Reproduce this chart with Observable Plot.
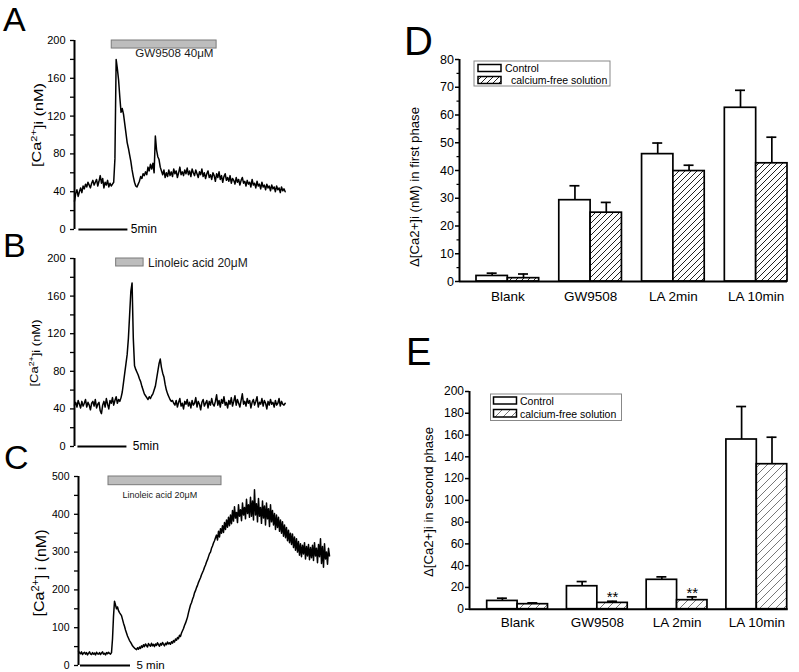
<!DOCTYPE html>
<html><head><meta charset="utf-8">
<script src="https://cdn.jsdelivr.net/npm/d3@7"></script>
<script src="https://cdn.jsdelivr.net/npm/@observablehq/plot@0.6"></script>
<style>
html,body{margin:0;padding:0;background:#fff;}
#fig{position:relative;width:799px;height:672px;overflow:hidden;font-family:Arial,"Liberation Sans",sans-serif;}
.panel{position:absolute;}
#overlay{position:absolute;left:0;top:0;pointer-events:none;}
</style></head>
<body><div id="fig"></div>
<script>
// ---------------- DATA ----------------
// Panel A: [Ca2+]i trace (nM), sampled every 0.125 min, GW9508 40 µM
const dtAB = 0.125;
const traceA = [30,38,42,35,40,44,39,46,43,48,45,50,47,44,49,52,47,
  50,53,46,51,57,49,54,44,50,47,52,45,49,46,48,50,
  75,180,170,158,140,124,128,122,112,102,92,86,79,72,63,56,50,46,45,48,
  51,56,54,59,57,61,58,66,62,69,64,70,60,99,84,77,74,66,62,58,63,55,60,56,
  63,57,61,56,64,59,62,55,60,66,58,61,57,63,59,65,
  58,62,56,64,60,57,63,59,55,61,58,64,56,60,54,59,
  62,55,58,53,60,57,51,59,55,61,53,57,50,56,59,52,
  55,51,57,49,54,52,48,55,50,53,47,52,55,49,51,46,
  52,48,50,45,53,47,49,44,51,46,48,43,50,45,47,42,
  48,44,46,41,47,43,45,40,46,42,44,39,45,41,43,40];
// Panel B: [Ca2+]i trace (nM), sampled every 0.125 min, linoleic acid 20 µM
const traceB = [44,47,42,49,45,41,48,43,46,50,42,47,44,39,46,48,
  43,50,41,45,47,38,35,44,48,42,51,45,40,49,46,52,
  44,49,53,46,50,48,
  52,58,68,78,88,98,115,140,165,174,115,86,82,79,76,72,69,64,60,56,
  54,52,50,53,51,54,56,60,64,72,80,88,93,84,78,74,66,60,56,53,50,48,49,46,
  44,49,42,47,51,43,46,40,48,45,50,43,47,41,49,44,
  46,52,42,48,45,39,47,50,43,46,49,41,48,44,51,45,
  43,48,55,44,49,42,50,46,53,44,47,41,49,45,52,43,
  48,54,44,50,46,42,49,56,45,48,43,51,46,49,41,47,
  50,44,48,53,42,47,45,51,43,49,46,40,48,44,50,45,
  47,42,49,44,46,51,43,48,45,44,46];
// Panel C: [Ca2+]i trace (nM), sampled every 0.1 min, linoleic acid 20 µM
const dtC = 0.1;
const traceC = [38,34,31,36,29,33,35,30,34,28,32,36,31,29,34,30,
  33,28,35,31,30,34,29,33,36,30,32,28,34,31,35,32,30,34,
  70,130,170,160,150,155,145,140,136,132,122,112,104,94,86,78,72,66,62,57,52,49,46,44,42,47,43,49,
  45,52,48,55,50,57,53,49,58,54,51,59,52,56,50,57,
  53,60,55,51,58,54,61,56,52,59,55,62,57,60,56,
  63,59,66,62,70,67,74,71,80,77,86,92,98,106,112,
  120,128,140,150,160,166,175,182,192,198,206,212,220,226,232,
  240,246,252,260,266,274,280,288,296,300,310,316,324,330,338,
  345,332,355,340,362,350,370,352,378,360,385,366,392,370,398,
  375,410,382,420,390,405,378,425,395,412,383,430,398,418,388,440,402,425,392,445,
  395,435,385,465,398,428,380,442,395,418,376,435,390,422,372,430,388,415,368,425,
  380,410,372,402,360,398,365,392,355,385,350,380,342,372,338,365,330,358,325,350,
  320,348,312,340,305,335,300,328,292,322,288,318,295,325,282,315,290,320,280,312,
  285,318,278,325,290,310,272,320,288,335,270,315,260,322,282,300,268,310,290];
const drugWindows = {A: [3.8, 14.5], B: [4.25, 7.05], C: [3.0, 14.3]}; // minutes
const drugLabels = {A: "GW9508 40μM", B: "Linoleic acid 20μM", C: "Linoleic acid 20μM"};
const scaleBarMin = 5;
const scaleBarLabels = {A: "5min", B: "5min", C: "5 min"};
const yTicksAB = d3.range(0, 201, 20);
const yTicksC = d3.range(0, 501, 50);

// Panels D, E: grouped bars
const categories = ["Blank", "GW9508", "LA 2min", "LA 10min"];
const seriesNames = ["Control", "calcium-free solution"];
const dControl    = [2.0, 29.3, 45.9, 62.6];
const dControlErr = [1.0, 5.2, 4.0, 6.3];
const dCaFree     = [1.2, 24.8, 39.8, 42.6];
const dCaFreeErr  = [1.5, 3.7, 2.1, 9.4];
const eControl    = [7.6, 21.1, 27.0, 155.9];
const eControlErr = [2.5, 4.3, 2.7, 30.3];
const eCaFree     = [4.6, 5.8, 8.3, 133.2];
const eCaFreeErr  = [1.2, 1.5, 3.0, 24.8];
const eSignif     = ["", "**", "**", ""];
const dTicks = d3.range(0, 81, 10), dMinor = d3.range(5, 80, 10);
const eTicks = d3.range(0, 201, 20);

// ---------------- RENDER ----------------
const FONT = "Arial, 'Liberation Sans', sans-serif";
const fig = document.getElementById("fig");
const baseStyle = {fontFamily: FONT, background: "transparent", overflow: "visible", maxWidth: "none", color: "#000"};

function mount(svg, left, top) {
  const w = document.createElement("div");
  w.className = "panel";
  w.style.left = left + "px"; w.style.top = top + "px";
  w.appendChild(svg);
  fig.appendChild(w);
}

function tracePanel(c) {
  const data = c.values.map((v, i) => ({t: i * c.dt, v}));
  return Plot.plot({
    width: c.width, height: c.height,
    marginLeft: c.ml, marginTop: c.mt, marginBottom: c.mb, marginRight: c.mr,
    style: baseStyle,
    x: {domain: [0, c.xMax], axis: null},
    y: {domain: [0, c.yMax], label: null},
    marks: [
      Plot.axisY(c.ticks, {tickSize: 4, tickPadding: 5, fontSize: c.tickFont, strokeWidth: 1.3, label: null,
        tickFormat: d => d % c.labelStep === 0 ? String(d) : ""}),
      Plot.ruleX([0], {y1: () => 0, y2: () => c.yMax, strokeWidth: 2}),
      Plot.rect([c.drug], {x1: d => d[0], x2: d => d[1], y1: () => c.yMax - c.drugH, y2: () => c.yMax,
        fill: "#bdbdbd", stroke: "#7a7a7a", strokeWidth: 1}),
      Plot.text([c.drugLabel], {x: () => c.labelT, y: () => c.labelY, text: d => d, textAnchor: "start",
        fontSize: c.labelFont, fill: "#1a1a1a"}),
      Plot.line(data, {x: "t", y: "v", stroke: "#000", strokeWidth: 1.5, strokeLinejoin: "round"}),
      Plot.ruleY([0], {x1: () => c.barStart, x2: () => c.barStart + scaleBarMin, strokeWidth: 2}),
      Plot.text([c.barLabel], {x: () => c.barStart + scaleBarMin + c.barGap, y: () => 0, text: d => d,
        textAnchor: "start", fontSize: c.barFont})
    ]
  });
}

mount(tracePanel({values: traceA, dt: dtAB, width: 290, height: 240, ml: 74, mt: 40, mb: 11, mr: 5.3,
  xMax: 21.5, yMax: 200, ticks: yTicksAB, labelStep: 40, tickFont: 11,
  drug: drugWindows.A, drugH: 8.5, drugLabel: drugLabels.A, labelT: 6.2, labelY: 186, labelFont: 11.6,
  barStart: 0.45, barGap: 0.3, barLabel: scaleBarLabels.A, barFont: 12}), 0, 0);

mount(tracePanel({values: traceB, dt: dtAB, width: 290, height: 206, ml: 74, mt: 8, mb: 10, mr: 5.3,
  xMax: 21.5, yMax: 200, ticks: yTicksAB, labelStep: 40, tickFont: 11,
  drug: drugWindows.B, drugH: 8.5, drugLabel: drugLabels.B, labelT: 7.5, labelY: 195, labelFont: 12,
  barStart: 0.35, barGap: 0.6, barLabel: scaleBarLabels.B, barFont: 12}), 0, 250);

mount(tracePanel({values: traceC, dt: dtC, width: 340, height: 206, ml: 78, mt: 10, mb: 7, mr: 8,
  xMax: 25.4, yMax: 500, ticks: yTicksC, labelStep: 100, tickFont: 10.5,
  drug: drugWindows.C, drugH: 23, drugLabel: drugLabels.C, labelT: 4.4, labelY: 452, labelFont: 9,
  barStart: 0.2, barGap: 0.6, barLabel: scaleBarLabels.C, barFont: 11.5}), 0, 466);

function barPanel(c) {
  const rows = categories.map((cat, i) => ({cat, c: c.control[i], ce: c.controlErr[i], f: c.free[i], fe: c.freeErr[i],
    sig: c.sig ? c.sig[i] : ""}));
  const xb = d3.scaleBand().domain(categories).range(c.xRange).paddingInner(c.pi).paddingOuter(0);
  const bw = xb.bandwidth(), q = bw / 4, cap = 5;
  const axisDx = c.ml - (xb(categories[0]) + bw / 2);
  const sw = 1.7;
  return Plot.plot({
    width: c.width, height: c.height,
    marginLeft: c.ml, marginTop: c.mt, marginBottom: c.mb, marginRight: c.mr,
    style: baseStyle,
    x: {type: "band", domain: categories, range: c.xRange, paddingInner: c.pi, paddingOuter: 0, round: false, label: null},
    y: {domain: [0, c.yMax], label: null},
    marks: [
      Plot.axisY(c.ticks, {tickSize: 4, tickPadding: 1.5, fontSize: c.tickFont, strokeWidth: 1.5, label: null}),
      c.minor ? Plot.axisY(c.minor, {tickSize: 2.5, tickFormat: () => "", strokeWidth: 1.2, label: null}) : null,
      Plot.axisX({tickSize: 0, tickPadding: c.xPad, fontSize: c.xFont, label: null}),
      Plot.ruleX(rows, {x: "cat", y1: "c", y2: d => d.c + d.ce, dx: -q, strokeWidth: sw}),
      Plot.tickY(rows, {x: "cat", y: d => d.c + d.ce, insetLeft: q - cap, insetRight: bw - q - cap, strokeWidth: sw}),
      Plot.ruleX(rows, {x: "cat", y1: "f", y2: d => d.f + d.fe, dx: q, strokeWidth: sw}),
      Plot.tickY(rows, {x: "cat", y: d => d.f + d.fe, insetLeft: 3 * q - cap, insetRight: q - cap, strokeWidth: sw}),
      Plot.barY(rows, {x: "cat", y: "c", insetRight: bw / 2, fill: "white", stroke: "#000", strokeWidth: sw}),
      Plot.barY(rows, {x: "cat", y: "f", insetLeft: bw / 2, fill: `url(#${c.hatch})`, stroke: "#000", strokeWidth: sw}),
      Plot.text(rows.filter(d => d.sig), {x: "cat", y: d => d.f + d.fe, text: "sig", dx: q, dy: -4, fontSize: 15}),
      Plot.ruleY([0], {strokeWidth: 2}),
      Plot.ruleX([categories[0]], {y1: () => 0, y2: () => c.yMax, dx: axisDx, strokeWidth: 2})
    ]
  });
}

mount(barPanel({control: dControl, controlErr: dControlErr, free: dCaFree, freeErr: dCaFreeErr,
  width: 399, height: 310, ml: 59, mt: 59, mb: 29, mr: 12, xRange: [76, 387], pi: 0.243,
  yMax: 80, ticks: dTicks, minor: dMinor, tickFont: 12.5, xPad: 10, xFont: 13.5, hatch: "hatchD"}), 400, 0);

mount(barPanel({control: eControl, controlErr: eControlErr, free: eCaFree, freeErr: eCaFreeErr, sig: eSignif,
  width: 399, height: 330, ml: 69, mt: 71, mb: 41.3, mr: 11.3, xRange: [86.7, 386.7], pi: 0.2375,
  yMax: 200, ticks: eTicks, minor: null, tickFont: 12, xPad: 8, xFont: 13.5, hatch: "hatchE"}), 400, 320);

// Overlay: panel letters, axis titles with superscripts, legends, hatch patterns
const ca = (size) => `[Ca<tspan dy="-0.45em" font-size="${size * 0.68}">2+</tspan><tspan dy="0.45em">]</tspan>`;
const overlay = `
<svg id="overlay" width="799" height="672" font-family="${FONT}">
 <defs>
  <pattern id="hatchD" patternUnits="userSpaceOnUse" width="6" height="6">
   <rect width="6" height="6" fill="white"/>
   <path d="M0,6L6,0M-1.5,1.5L1.5,-1.5M4.5,7.5L7.5,4.5" stroke="#222" stroke-width="1"/>
  </pattern>
  <pattern id="hatchE" patternUnits="userSpaceOnUse" width="8" height="8">
   <rect width="8" height="8" fill="white"/>
   <path d="M0,8L8,0M-2,2L2,-2M6,10L10,6" stroke="#555" stroke-width="0.8"/>
  </pattern>
 </defs>
 <g font-size="34" fill="#000">
  <text x="3" y="31">A</text>
  <text x="3" y="257">B</text>
  <text x="4" y="469">C</text>
  <text x="404" y="55" font-size="40">D</text>
  <text x="406" y="365" font-size="38">E</text>
 </g>
 <text transform="translate(41,125) rotate(-90)" text-anchor="middle" font-size="12" textLength="84" lengthAdjust="spacingAndGlyphs">${ca(12)}<tspan>i (nM)</tspan></text>
 <text transform="translate(38,353) rotate(-90)" text-anchor="middle" font-size="11.5" textLength="67" lengthAdjust="spacingAndGlyphs">${ca(11.5)}<tspan>i (nM)</tspan></text>
 <text transform="translate(44,573) rotate(-90)" text-anchor="middle" font-size="15.5" textLength="87" lengthAdjust="spacingAndGlyphs">${ca(15.5)}<tspan> i (nM)</tspan></text>
 <text transform="translate(419,187) rotate(-90)" text-anchor="middle" font-size="12.5" textLength="160" lengthAdjust="spacingAndGlyphs">Δ[Ca2+]i (nM) in first phase</text>
 <text transform="translate(433,502) rotate(-90)" text-anchor="middle" font-size="12.5" textLength="150" lengthAdjust="spacingAndGlyphs">Δ[Ca2+]i in second phase</text>
 <g font-size="10.5">
  <rect x="474" y="61" width="136" height="25" fill="white" stroke="#888" stroke-width="1"/>
  <rect x="478" y="64.5" width="23" height="7" fill="white" stroke="#000" stroke-width="1.5"/>
  <text x="505" y="71.8">${seriesNames[0]}</text>
  <rect x="478" y="76.5" width="23" height="7" fill="url(#hatchD)" stroke="#000" stroke-width="1.5"/>
  <text x="511" y="83.8">${seriesNames[1]}</text>
  <rect x="490.5" y="394" width="131" height="26.5" fill="white" stroke="#888" stroke-width="1"/>
  <rect x="493.5" y="397" width="23" height="7" fill="white" stroke="#000" stroke-width="1.5"/>
  <text x="520" y="404.8">${seriesNames[0]}</text>
  <rect x="493.5" y="409.5" width="23" height="7.5" fill="url(#hatchE)" stroke="#000" stroke-width="1.5"/>
  <text x="520" y="417.5">${seriesNames[1]}</text>
 </g>
</svg>`;
fig.insertAdjacentHTML("beforeend", overlay);
</script>
</body></html>
